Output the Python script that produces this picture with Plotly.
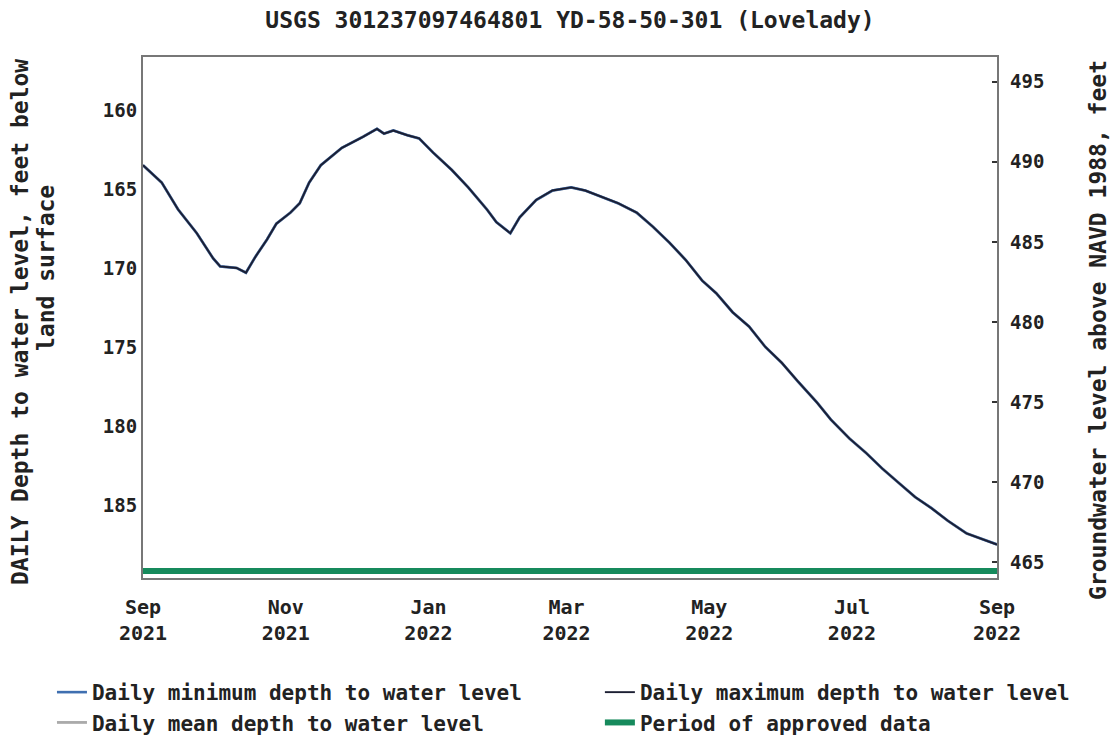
import plotly.graph_objects as go

# ---- data ----
dates = ["2021-09-01","2021-09-09","2021-09-16","2021-09-24","2021-10-01","2021-10-04",
         "2021-10-11","2021-10-15","2021-10-19","2021-10-24","2021-10-28","2021-11-03",
         "2021-11-07","2021-11-11","2021-11-16","2021-11-25","2021-12-04","2021-12-10",
         "2021-12-13","2021-12-17","2021-12-23","2021-12-28","2022-01-03","2022-01-11",
         "2022-01-18","2022-01-26","2022-01-30","2022-02-05","2022-02-09","2022-02-16",
         "2022-02-23","2022-03-03","2022-03-09","2022-03-16","2022-03-23","2022-03-31",
         "2022-04-07","2022-04-14","2022-04-21","2022-04-28","2022-05-04","2022-05-11",
         "2022-05-18","2022-05-25","2022-06-01","2022-06-08","2022-06-16","2022-06-22",
         "2022-06-30","2022-07-07","2022-07-14","2022-07-21","2022-07-28","2022-08-04",
         "2022-08-11","2022-08-19","2022-08-26","2022-09-01"]
depth = [163.5,164.6,166.3,167.8,169.4,169.9,
         170.0,170.3,169.3,168.2,167.2,166.5,
         165.9,164.6,163.5,162.4,161.7,161.2,
         161.5,161.3,161.6,161.8,162.7,163.8,
         164.9,166.3,167.1,167.8,166.8,165.7,
         165.1,164.9,165.1,165.5,165.9,166.5,
         167.4,168.4,169.5,170.8,171.6,172.8,
         173.7,175.0,176.0,177.2,178.5,179.6,
         180.8,181.7,182.7,183.6,184.5,185.2,
         186.0,186.8,187.2,187.5]

approved_dates = ["2021-09-01", "2022-09-01"]
approved_elev = [464.45, 464.45]

tick_dates = ["2021-09-01","2021-11-01","2022-01-01","2022-03-01","2022-05-01","2022-07-01","2022-09-01"]
tick_text = ["Sep<br>2021","Nov<br>2021","Jan<br>2022","Mar<br>2022","May<br>2022","Jul<br>2022","Sep<br>2022"]
left_ticks = [160, 165, 170, 175, 180, 185]
right_ticks = [465, 470, 475, 480, 485, 490, 495]

FONT = "DejaVu Sans Mono"
INK = "#222222"

fig = go.Figure()
fig.add_trace(go.Scatter(x=dates, y=depth, mode="lines", name="Daily mean depth to water level",
                         line=dict(color="#aaaaaa", width=2.8), legend="legend", legendrank=2))
fig.add_trace(go.Scatter(x=dates, y=depth, mode="lines", name="Daily minimum depth to water level",
                         line=dict(color="#3f6fb0", width=2.6), legend="legend", legendrank=1))
fig.add_trace(go.Scatter(x=dates, y=depth, mode="lines", name="Daily maximum depth to water level",
                         line=dict(color="#1c1f33", width=1.9), legend="legend2", legendrank=1))
fig.add_trace(go.Scatter(x=approved_dates, y=approved_elev, mode="lines", name="Period of approved data",
                         line=dict(color="#168a5c", width=6), yaxis="y2",
                         legend="legend2", legendrank=2))

legend_common = dict(orientation="v", yanchor="top", xanchor="left", bgcolor="rgba(0,0,0,0)",
                     font=dict(family=FONT, size=21, weight="bold", color=INK),
                     tracegroupgap=0, itemwidth=30)

fig.update_layout(
    width=1112, height=740,
    margin=dict(l=143, r=115, t=57, b=162, autoexpand=False),
    paper_bgcolor="white", plot_bgcolor="white",
    font=dict(family=FONT, size=19, color=INK, weight="bold"),
    title=dict(text="USGS 301237097464801 YD-58-50-301 (Lovelady)", x=0.5, xref="paper",
               xanchor="center", y=0.973, yanchor="middle",
               font=dict(family=FONT, size=23, weight="bold", color=INK)),
    showlegend=True,
    legend=dict(x=-0.1066, y=-0.1804, **legend_common),
    legend2=dict(x=0.535, y=-0.1804, **legend_common),
    xaxis=dict(type="date", range=["2021-09-01", "2022-09-01"], tickvals=tick_dates, ticktext=tick_text,
               showgrid=False, zeroline=False, showline=True, linecolor="#777777", linewidth=2,
               mirror=True, ticks="", ticklabelstandoff=10,
               tickfont=dict(family=FONT, size=20, weight="bold", color=INK)),
    yaxis=dict(range=[189.62, 156.65], tickvals=left_ticks, showgrid=False, zeroline=False,
               showline=True, linecolor="#777777", linewidth=2, mirror=True, ticks="",
               ticklabelstandoff=0),
    yaxis2=dict(range=[464.02, 496.54], tickvals=right_ticks, overlaying="y", side="right",
                showgrid=False, zeroline=False, showline=False, ticks="inside", ticklen=5,
                tickcolor="#333333", tickwidth=2, ticklabelstandoff=12),
    annotations=[
        dict(text="DAILY Depth to water level, feet below", xref="paper", yref="paper",
             x=-0.1440, y=0.4914, xanchor="center", yanchor="middle", textangle=-90,
             showarrow=False, font=dict(family=FONT, size=23, weight="bold", color=INK)),
        dict(text="land surface", xref="paper", yref="paper",
             x=-0.1136, y=0.595, xanchor="center", yanchor="middle", textangle=-90,
             showarrow=False, font=dict(family=FONT, size=23, weight="bold", color=INK)),
        dict(text="Groundwater level above NAVD 1988, feet", xref="paper", yref="paper",
             x=1.1183, y=0.476, xanchor="center", yanchor="middle", textangle=-90,
             showarrow=False, font=dict(family=FONT, size=23, weight="bold", color=INK)),
    ],
)

fig.write_html("out.html")
